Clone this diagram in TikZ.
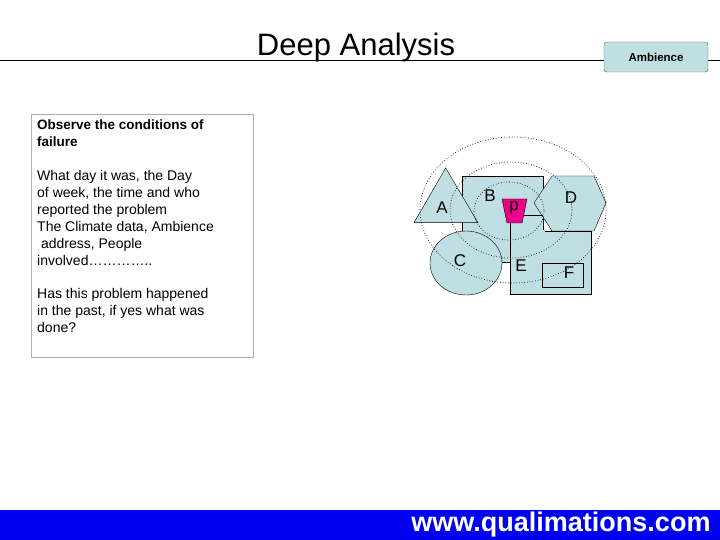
\documentclass[tikz,border=0pt]{standalone}
\usepackage{fontspec}
\setmainfont{Liberation Sans}
\begin{document}
\begin{tikzpicture}[x=1pt,y=-1pt,
  shp/.style={draw=black,fill=shapefill},
  dots/.style={draw=black,dotted,line width=0.7pt},
  lbl/.style={font=\fontsize{17}{17}\selectfont},
  txt/.style={anchor=north west,align=left,inner sep=0pt}]
\definecolor{shapefill}{HTML}{BFDFE3}
\definecolor{footblue}{HTML}{0000F0}
\useasboundingbox (0,0) rectangle (720,540);
\fill[white] (0,0) rectangle (720,540);
% title
\draw[line width=0.6pt] (0,60) -- (720,60);
\node[font=\fontsize{31}{31}\selectfont] (title) at (356,47) {Deep Analysis};
\node[draw=gray!70!black,fill=shapefill,rounded corners=3pt,minimum width=104pt,minimum height=30pt,font=\bfseries\fontsize{11.5}{11.5}\selectfont] (amb) at (656,57) {Ambience};
% left text box
\node[draw=cyan!40!blue!40,line width=0.6pt,minimum width=222pt,minimum height=243pt,anchor=north west] (box) at (31,114) {};
\node[txt,font=\bfseries\fontsize{13.5}{17}\selectfont] (t1) at (37,120) {Observe the conditions of\\failure};
\node[txt,font=\fontsize{14}{17}\selectfont] (t2) at (37,170) {What day it was, the Day\\of week, the time and who\\reported the problem\\The Climate data, Ambience\\\ address, People\\involved\ldots\ldots\ldots\ldots..};
\node[txt,font=\fontsize{14}{17}\selectfont] (t3) at (37,288) {Has this problem happened\\in the past, if yes what was\\done?};
% shapes
\draw[shp] (462,176) rectangle (543,262);
\draw[shp] (510,231) rectangle (591,294);
\fill[shapefill] (505,230) rectangle (545,263);
\draw (510,223) -- (510,294);
\draw[shp] (414,222.7) -- (445.7,168) -- (478,222.7) -- cycle;
\draw[shp] (466,263) ellipse (36 and 32);
\draw (502,262) -- (510,262);
\draw[shp] (534,203) -- (552,176) -- (594,176) -- (606,203) -- (594,231) -- (552,231) -- cycle;
\draw[shp] (542,263) rectangle (583,287);
\draw (522,215) -- (543,215);
\draw[fill=magenta] (502,199) -- (527,199) -- (522,223) -- (507,223) -- cycle;
\draw[dots] (509,211) ellipse (35 and 29);
\draw[dots] (511,210) ellipse (61 and 48);
\draw[dots] (513,210) ellipse (93 and 73);
\node[lbl] (A) at (442,208) {A};
\node[lbl] (B) at (490,196) {B};
\node[lbl] (p) at (514,208) {p};
\node[lbl] (C) at (460,261) {C};
\node[lbl] (D) at (571,198) {D};
\node[lbl] (E) at (521,266) {E};
\node[lbl] (F) at (569,273) {F};
% footer
\fill[footblue] (0,510) rectangle (720,540);
\node[anchor=east,text=white,font=\bfseries\fontsize{27}{27}\selectfont] (url) at (714,525) {www.qualimations.com};
\end{tikzpicture}
\end{document}
